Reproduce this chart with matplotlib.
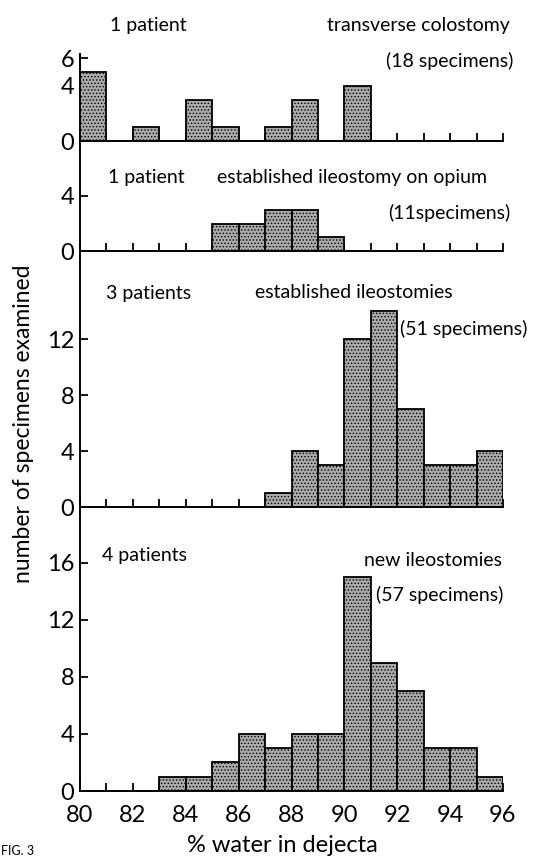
import numpy as np
import matplotlib
matplotlib.use("Agg")
import matplotlib.pyplot as plt

plt.rcParams['font.family'] = ['Lato', 'DejaVu Sans']
plt.rcParams['hatch.linewidth'] = 0.6
plt.rcParams['hatch.color'] = '#4a4a4a'

# Histogram bins (% water in dejecta), one count per 1% bin from 80 to 95
bins = np.arange(80, 96)
colostomy = [5, 0, 1, 0, 3, 1, 0, 1, 3, 0, 4, 0, 0, 0, 0, 0]
ileo_opium = [0, 0, 0, 0, 0, 2, 2, 3, 3, 1, 0, 0, 0, 0, 0, 0]
ileo_established = [0, 0, 0, 0, 0, 0, 0, 1, 4, 3, 12, 14, 7, 3, 3, 4]
ileo_new = [0, 0, 0, 1, 1, 2, 4, 3, 4, 4, 15, 9, 7, 3, 3, 1]

panel_counts = [colostomy, ileo_opium, ileo_established, ileo_new]
panel_yticks = [[0, 4, 6], [0, 4], [0, 4, 8, 12], [0, 4, 8, 12, 16]]
panel_left = ["1 patient", "1 patient", "3 patients", "4 patients"]
panel_title = ["transverse colostomy", "established ileostomy on opium",
               "established ileostomies", "new ileostomies"]
panel_n = ["(18 specimens)", "(11specimens)", "(51 specimens)", "(57 specimens)"]
xtick_labels = list(range(80, 97, 2))

W, H = 547, 859
fig = plt.figure(figsize=(W / 100, H / 100), dpi=100)

def fx(x):
    return x / W

def fy(y):
    return 1 - y / H

# pixel layout of each panel: baseline y, top y, y-limit
x0, x1 = 80, 503
layout = [(141, 54, 6.3), (251, 141, 8.0), (507, 251, 18.3), (791, 507, 19.9)]

axes = []
for i, (base, top, ymax) in enumerate(layout):
    ax = fig.add_axes([fx(x0), fy(base), fx(x1) - fx(x0), (base - top) / H])
    ax.bar(bins, panel_counts[i], width=1, align='edge', facecolor='#aaaaaa',
           edgecolor='black', linewidth=1.3, hatch='.....')
    ax.set_xlim(80, 96)
    ax.set_ylim(0, ymax)
    ax.set_axisbelow(True)
    ax.patch.set_alpha(0)
    for s in ['top', 'right']:
        ax.spines[s].set_visible(False)
    for s in ['left', 'bottom']:
        ax.spines[s].set_linewidth(1.4)
    ax.set_yticks(panel_yticks[i])
    ax.tick_params(axis='y', direction='in', length=6, width=1.3,
                   labelsize=17, pad=4)
    ax.tick_params(axis='x', direction='in', length=6, width=1.3)
    if i < 3:
        ax.set_xticks(np.arange(80, 97))
        ax.set_xticklabels([])
    else:
        ax.set_xticks(xtick_labels)
        ax.set_xticks(np.arange(81, 97, 2), minor=True)
        ax.tick_params(axis='x', which='both', direction='in', length=6,
                       width=1.3, labelsize=17, pad=10)
    axes.append(ax)

# panel annotations (pixel positions)
fs = 14
fig.text(fx(110), fy(26), panel_left[0], fontsize=fs, va='center')
fig.text(fx(510), fy(26), panel_title[0], fontsize=fs, va='center', ha='right')
fig.text(fx(513), fy(61), panel_n[0], fontsize=fs, va='center', ha='right')

fig.text(fx(108), fy(177), panel_left[1], fontsize=fs, va='center')
fig.text(fx(217), fy(177), panel_title[1], fontsize=fs, va='center')
fig.text(fx(510), fy(213), panel_n[1], fontsize=fs, va='center', ha='right')

fig.text(fx(106), fy(293), panel_left[2], fontsize=fs, va='center')
fig.text(fx(255), fy(293), panel_title[2], fontsize=fs, va='center')
fig.text(fx(400), fy(329), panel_n[2], fontsize=fs, va='center', ha='left')

fig.text(fx(102), fy(556), panel_left[3], fontsize=fs, va='center')
fig.text(fx(502), fy(561), panel_title[3], fontsize=fs, va='center', ha='right')
fig.text(fx(503), fy(595), panel_n[3], fontsize=fs, va='center', ha='right')

fig.text(fx(24), fy(424), "number of specimens examined", fontsize=16.5,
         rotation=90, ha='center', va='center')
fig.text(fx(282), fy(846), "% water in dejecta", fontsize=17,
         ha='center', va='center')
fig.text(fx(1), fy(857), "FIG. 3", fontsize=9, va='bottom', ha='left')

fig.savefig("out.png", dpi=100)
